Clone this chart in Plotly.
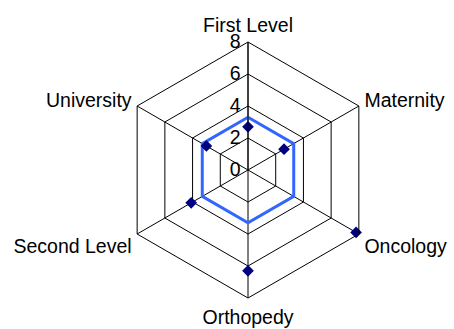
import plotly.graph_objects as go

categories = ["First Level", "Maternity", "Oncology", "Orthopedy", "Second Level", "University"]
reference_values = [3.3, 3.3, 3.3, 3.3, 3.3, 3.3]
point_values = [2.7, 2.6, 7.8, 6.3, 4.1, 3.0]
radial_ticks = [0, 2, 4, 6, 8]

fig = go.Figure()
fig.add_trace(go.Scatterpolar(
    r=reference_values + reference_values[:1],
    theta=categories + categories[:1],
    mode="lines",
    line=dict(color="#3366FF", width=3),
    showlegend=False,
    hoverinfo="skip",
))
fig.add_trace(go.Scatterpolar(
    r=point_values,
    theta=categories,
    mode="markers",
    marker=dict(symbol="diamond", color="#000080", size=9),
    showlegend=False,
))

W, H = 454, 329
cx, cy, R = 248, 170, 128
fig.update_layout(
    width=W, height=H,
    margin=dict(l=0, r=0, t=0, b=0),
    paper_bgcolor="white",
    font=dict(family="Liberation Sans, Arial, sans-serif", size=19.5, color="black"),
    polar=dict(
        domain=dict(x=[(cx - R) / W, (cx + R) / W], y=[(H - cy - R) / H, (H - cy + R) / H]),
        gridshape="linear",
        bgcolor="white",
        angularaxis=dict(
            rotation=90, direction="clockwise",
            categoryorder="array", categoryarray=categories,
            showline=True, linecolor="black", linewidth=1,
            gridcolor="black", gridwidth=1,
            ticks="outside", ticklen=2, tickcolor="rgba(0,0,0,0)",
            tickfont=dict(size=19.5),
        ),
        radialaxis=dict(
            range=[0, 8], tickvals=radial_ticks, ticktext=[str(v) for v in radial_ticks],
            angle=90, tickangle=90, side="counterclockwise",
            showline=True, linecolor="black", linewidth=1,
            gridcolor="black", gridwidth=1,
            ticks="", tickfont=dict(size=19.5),
        ),
    ),
)
fig.write_html("out.html", config={"displayModeBar": False},
               post_script="document.body.style.margin='0';")
